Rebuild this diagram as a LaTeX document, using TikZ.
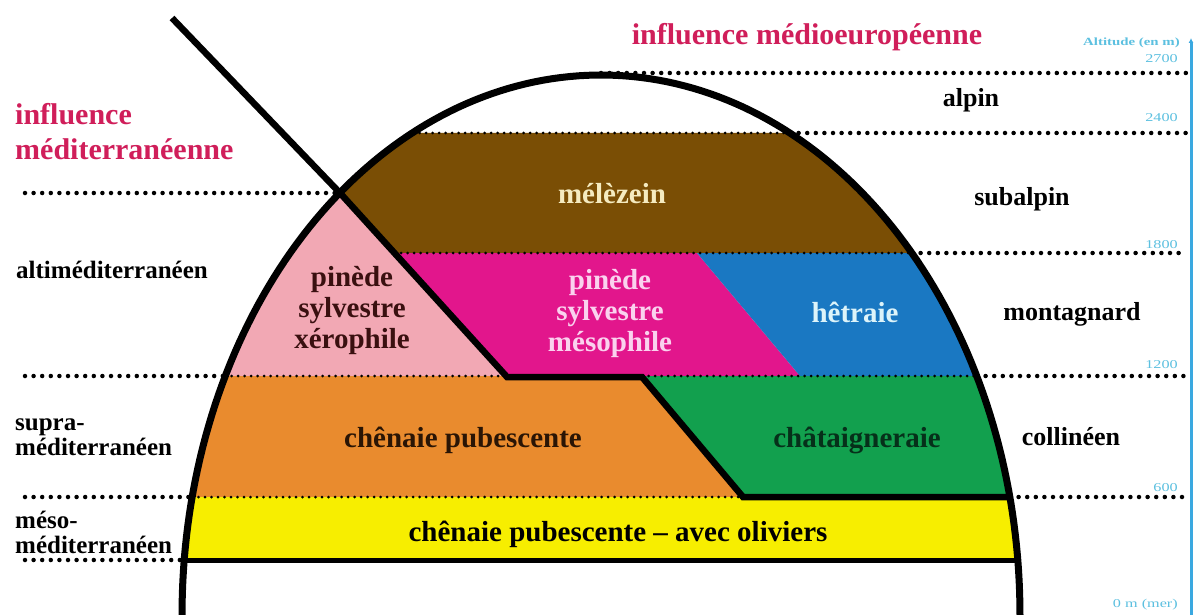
\documentclass[tikz,border=0pt]{standalone}
\usepackage{fontspec}
\setmainfont{Liberation Serif}
\usetikzlibrary{arrows.meta}
\definecolor{crim}{HTML}{D01E5A}
\definecolor{cbrown}{HTML}{7A4E05}
\definecolor{cpink}{HTML}{F2A8B4}
\definecolor{cmag}{HTML}{E2168C}
\definecolor{cblue}{HTML}{1A78C2}
\definecolor{corange}{HTML}{E98B2E}
\definecolor{cgreen}{HTML}{12A04E}
\definecolor{cyellow}{HTML}{F7EE00}
\definecolor{tcream}{HTML}{F5EBC0}
\definecolor{tpink}{HTML}{FAD2EE}
\definecolor{tcyan}{HTML}{DDF4FA}
\definecolor{tmaroon}{HTML}{3A1010}
\definecolor{tbrown}{HTML}{2A1505}
\definecolor{tgreen}{HTML}{06301A}
\definecolor{axisblue}{HTML}{3AA8E0}
\definecolor{axislab}{HTML}{5CC0E0}
\begin{document}
\begin{tikzpicture}[x=1pt,y=-1pt,
  outdots/.style={line width=4.5pt, dash pattern=on 0pt off 8.6pt, line cap=round, black},
  indots/.style={line width=3pt, dash pattern=on 0pt off 6.5pt, line cap=round, black},
  bline/.style={line width=5pt, line join=miter, black},
  mtnline/.style={line width=7pt, black},
  inlab/.style={font=\fontsize{29}{31}\selectfont\bfseries, inner sep=0pt, align=center},
  zonelab/.style={font=\fontsize{25}{25}\selectfont\bfseries, inner sep=0pt, align=left},
  rzone/.style={font=\fontsize{26}{26}\selectfont\bfseries, inner sep=0pt},
  inflab/.style={font=\fontsize{30}{35}\selectfont\bfseries, text=crim, inner sep=0pt, align=left},
  altlab/.style={font=\fontsize{12}{12}\selectfont, text=axislab, inner sep=0pt, xscale=1.35}]
\useasboundingbox (0,0) rectangle (1194,615);
\fill[white] (0,0) rectangle (1194,615);

% vegetation belts, clipped to the mountain
\begin{scope}
\clip plot[domain=180:0, samples=150] ({601+419*cos(\x)},{615-540*sin(\x)}) -- cycle;
\fill[cbrown] (0,133) -- (1194,133) -- (1194,253) -- (394.5,253) -- (340,193) -- (0,193) -- cycle;
\fill[cpink] (0,193) -- (340,193) -- (507,376) -- (0,376) -- cycle;
\fill[cmag] (394.5,253) -- (697,253) -- (800,376) -- (507,376) -- cycle;
\fill[cblue] (697,253) -- (1194,253) -- (1194,376) -- (800,376) -- cycle;
\fill[corange] (0,376) -- (642,376) -- (743,497) -- (0,497) -- cycle;
\fill[cgreen] (642,376) -- (1194,376) -- (1194,497) -- (743,497) -- cycle;
\fill[cyellow] (0,497) -- (1194,497) -- (1194,560) -- (0,560) -- cycle;
\end{scope}

% dotted altitude lines
\draw[outdots] (601,73) -- (1186,73);
\draw[indots] (413,133) -- (790,133);
\draw[outdots] (790,133) -- (1186,133);
\draw[outdots] (25,193) -- (340,193);
\draw[indots] (394.5,253) -- (912,253);
\draw[outdots] (912,253) -- (1186,253);
\draw[outdots] (25,376) -- (225,376);
\draw[indots] (225,376) -- (507,376);
\draw[indots] (642,376) -- (977,376);
\draw[outdots] (977,376) -- (1186,376);
\draw[outdots] (25,497) -- (192,497);
\draw[indots] (192,497) -- (743,497);
\draw[outdots] (1010,497) -- (1186,497);
\draw[outdots] (25,560) -- (184,560);

% thick boundaries
\coordinate (d0) at (172,18);
\coordinate (d1) at (340,193);
\coordinate (d2) at (507,377);
\coordinate (d3) at (642,377);
\coordinate (d4) at (743,497);
\coordinate (d5) at (1012,497);
\coordinate (y0) at (184,560);
\coordinate (y1) at (1018,560);
\draw[bline, line width=6.5pt] (d0) -- (d1) -- (d2) -- (d3) -- (d4) -- (d5);
\draw[bline] (y0) -- (y1);

% mountain outline
\draw[mtnline] plot[domain=180:0, samples=150] ({601+419*cos(\x)},{615-540*sin(\x)});

% altitude axis
\coordinate (ax0) at (1191,615);
\coordinate (ax1) at (1191,38);
\draw[axisblue, line width=3pt, -{Latex[length=5pt,width=5pt]}] (ax0) -- (ax1);

% influence labels
\node[inflab, anchor=base] (infmed) at (807,45) {influence médioeuropéenne};
\node[inflab, anchor=west] (infmedit) at (15,132) {influence\\méditerranéenne};

% altitudinal zones (left)
\node[zonelab, anchor=base west] (zalti) at (16,278) {altiméditerranéen};
\node[zonelab, anchor=west] (zsupra) at (15,437) {supra-\\méditerranéen};
\node[zonelab, anchor=west] (zmeso) at (15,532) {méso-\\méditerranéen};

% altitudinal zones (right)
\node[rzone, anchor=base] (zalpin) at (971,107) {alpin};
\node[rzone, anchor=base] (zsub) at (1022,205) {subalpin};
\node[rzone, anchor=base] (zmont) at (1072,320) {montagnard};
\node[rzone, anchor=base] (zcoll) at (1071,445) {collinéen};

% vegetation labels
\node[inlab, text=tcream, anchor=base] (lmel) at (612,203) {mélèzein};
\node[inlab, text=tmaroon] (lxero) at (352,311) {pinède\\sylvestre\\xérophile};
\node[inlab, text=tpink] (lmeso) at (610,314) {pinède\\sylvestre\\mésophile};
\node[inlab, text=tcyan, anchor=base] (lhet) at (855,322) {hêtraie};
\node[inlab, text=tbrown, anchor=base] (lchen) at (463,447) {chênaie pubescente};
\node[inlab, text=tgreen, anchor=base] (lchat) at (857,447) {châtaigneraie};
\node[inlab, text=black, anchor=base] (lolive) at (618,541) {chênaie pubescente – avec oliviers};

% altitude values
\node[altlab, font=\fontsize{11}{11}\selectfont\bfseries, anchor=base east] (atitle) at (1180,46) {Altitude (en m)};
\node[altlab, anchor=base east] (a2700) at (1178,63) {2700};
\node[altlab, anchor=base east] (a2400) at (1178,122) {2400};
\node[altlab, anchor=base east] (a1800) at (1178,248) {1800};
\node[altlab, anchor=base east] (a1200) at (1178,368) {1200};
\node[altlab, anchor=base east] (a600) at (1178,491) {600};
\node[altlab, anchor=base east] (a0) at (1178,607) {0 m (mer)};
\end{tikzpicture}
\end{document}
